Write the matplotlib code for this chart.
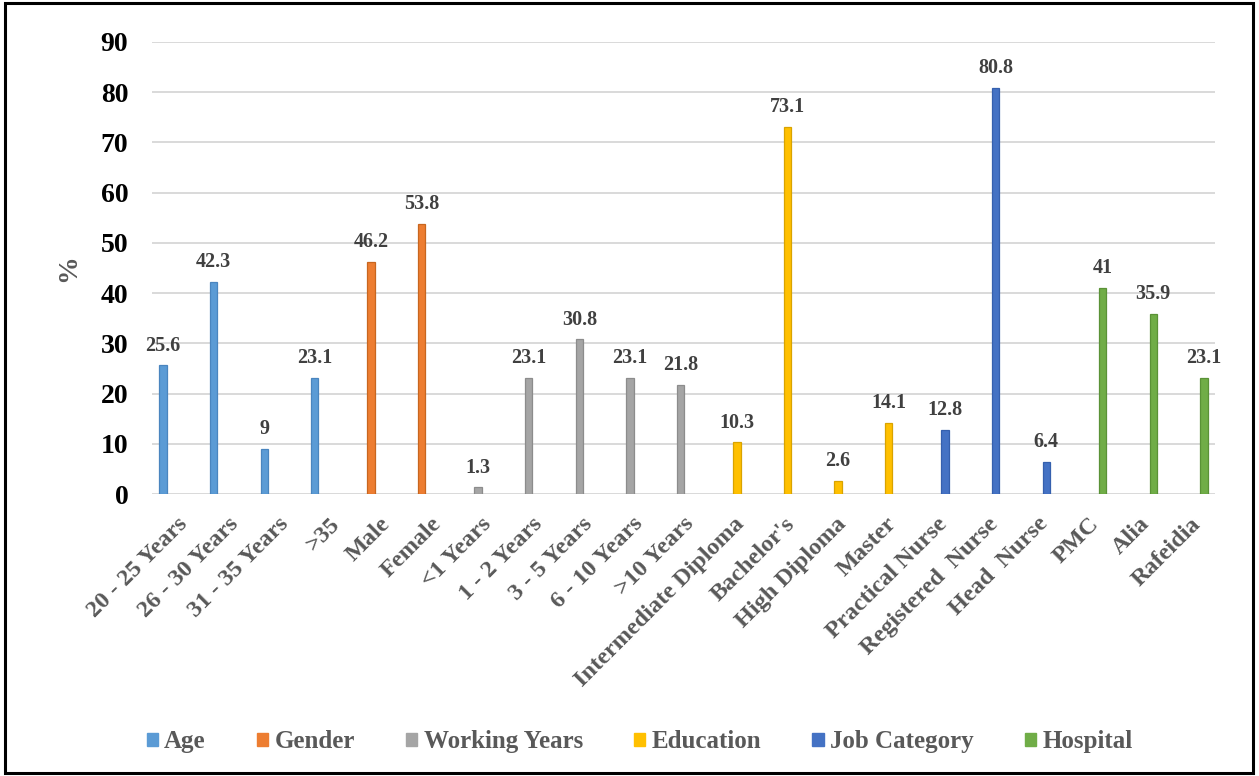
import numpy as np
import matplotlib
matplotlib.use("Agg")
import matplotlib.pyplot as plt
from matplotlib.patches import Patch, Rectangle

# Demographic characteristics (% of respondents)
categories = [
    "20 - 25 Years", "26 - 30 Years", "31 - 35 Years", ">35",
    "Male", "Female",
    "<1 Years", "1 - 2 Years", "3 - 5 Years", "6 - 10 Years", ">10 Years",
    "Intermediate Diploma", "Bachelor's", "High Diploma", "Master",
    "Practical Nurse", "Registered  Nurse", "Head  Nurse",
    "PMC", "Alia", "Rafeidia",
]
age = [25.6, 42.3, 9, 23.1]
gender = [46.2, 53.8]
working_years = [1.3, 23.1, 30.8, 23.1, 21.8]
education = [10.3, 73.1, 2.6, 14.1]
job_category = [12.8, 80.8, 6.4]
hospital = [41, 35.9, 23.1]

series_names = ["Age", "Gender", "Working Years", "Education", "Job Category", "Hospital"]
series_values = [age, gender, working_years, education, job_category, hospital]
colors = ["#5B9BD5", "#ED7D31", "#A5A5A5", "#FFC000", "#4472C4", "#70AD47"]
edge_colors = ["#4A85BF", "#C8661F", "#8C8C8C", "#D9A300", "#3560AE", "#5A9237"]

plt.rcParams["font.family"] = ["Liberation Serif", "DejaVu Serif"]
plt.rcParams["font.weight"] = "bold"

fig = plt.figure(figsize=(12.59, 7.76), dpi=100)
ax = fig.add_axes([0.1207, 0.3634, 0.8443, 0.5825])

n_cat = len(categories)
x = np.arange(n_cat)
n_series = len(series_names)
step = 0.113
bar_w = 0.145

start = 0
for i, (name, vals) in enumerate(zip(series_names, series_values)):
    idx = np.arange(start, start + len(vals))
    offset = (i - (n_series - 1) / 2) * step
    bars = ax.bar(idx + offset, vals, width=bar_w, color=colors[i],
                  edgecolor=edge_colors[i], linewidth=0.9, zorder=3, label=name)
    for b, v in zip(bars, vals):
        ax.annotate(f"{v:g}", (b.get_x() + b.get_width() / 2, v),
                    xytext=(0, 7), textcoords="offset points",
                    ha="center", va="bottom", fontsize=14.5, fontweight="bold",
                    color="#404040")
    start += len(vals)

ax.set_xlim(-0.5, n_cat - 0.5)
ax.set_ylim(0, 90)
ax.set_yticks(np.arange(0, 91, 10))
ax.tick_params(axis="y", labelsize=20, length=0, pad=17, labelcolor="black")
ax.grid(axis="y", color="#D9D9D9", linewidth=1.4, zorder=0)
ax.set_axisbelow(True)
for s in ax.spines.values():
    s.set_visible(False)

ax.set_xticks(x)
ax.set_xticklabels(categories, rotation=45, ha="right", rotation_mode="anchor",
                   fontsize=17.5, fontweight="bold", color="#595959")
ax.tick_params(axis="x", length=0, pad=14)

ax.set_ylabel("%", fontsize=20, fontweight="bold", color="#595959", labelpad=14)

handles = [Patch(facecolor=c, edgecolor=c) for c in colors]
fig.legend(handles, series_names, loc="center", bbox_to_anchor=(0.508, 0.044),
           ncol=6, frameon=False, prop={"size": 18, "weight": "bold"},
           labelcolor="#595959", handlelength=0.45, handleheight=0.45,
           handletextpad=0.25, columnspacing=2.05)

# Outer frame around the whole figure
fig.patches.append(Rectangle((0.004, 0.004), 0.991, 0.992, transform=fig.transFigure,
                             fill=False, edgecolor="black", linewidth=2.2))

fig.savefig("out.png", dpi=100, facecolor="white")
